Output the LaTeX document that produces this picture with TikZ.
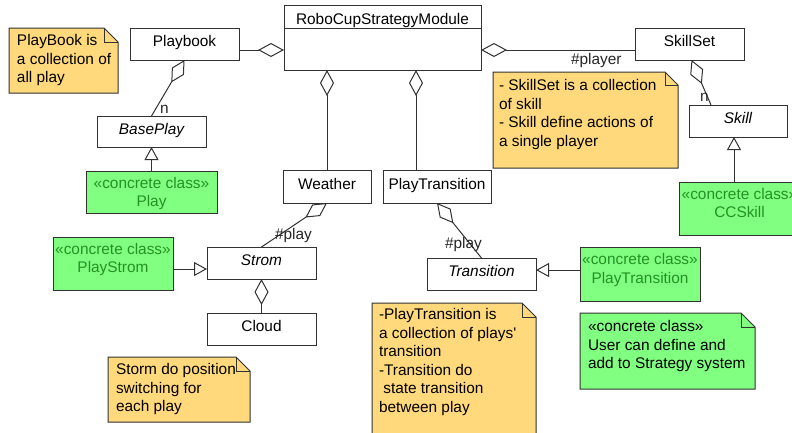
\documentclass[tikz,border=0pt]{standalone}
\usepackage{fontspec}
\setmainfont{Liberation Sans}
\usetikzlibrary{arrows.meta,calc,backgrounds}
\definecolor{notey}{RGB}{255,217,123}
\definecolor{ccfill}{RGB}{128,255,128}
\definecolor{cctext}{RGB}{36,145,36}
\definecolor{edge}{RGB}{50,50,50}
\newcommand\bx[4]{\parbox[c][#2][t]{#1}{\vspace*{#3}#4}}
\newcommand\notefold[3]{%
  \filldraw[fill=#2, draw=edge, line width=1pt] (#1.south west) -- (#1.north west) -- ([xshift=-#3]#1.north east) -- ([yshift=-#3]#1.north east) -- (#1.south east) -- cycle;
  \draw[draw=edge, line width=1pt, line join=miter] ([xshift=-#3]#1.north east) -- ([xshift=-#3,yshift=-#3]#1.north east) -- ([yshift=-#3]#1.north east);}
\tikzset{
  aggtip/.tip={Diamond[open,length=26pt,width=14pt]},
  gentip/.tip={Triangle[open,length=13pt,width=14pt]},
  base/.style={font=\fontsize{15.4}{18.5}\selectfont, outer sep=0pt},
  cls/.style={base, draw=edge, line width=1pt, fill=white, anchor=north west, inner sep=0pt, text height=10pt, text depth=5pt},
  cc/.style={base, draw=edge, line width=1pt, fill=ccfill, text=cctext, anchor=north west, inner sep=0pt},
  note/.style={base, anchor=north west, inner sep=0pt},
  conn/.style={draw=edge, line width=1pt},
  agg/.style={conn, aggtip-},
  gen/.style={conn, -gentip},
  lbl/.style={base, anchor=base west, inner sep=0pt, text=black!85},
}
\begin{document}
\begin{tikzpicture}[x=1pt,y=-1pt]
\begin{pgfonlayer}{background}
\fill[white] (0,0) rectangle (792,432);
\end{pgfonlayer}
\useasboundingbox (0,0) rectangle (792,432);

% classes
\node[cls, minimum width=197pt, minimum height=65pt, text height=0pt, text depth=0pt] (M) at (284,5) {};
\draw[conn] ([yshift=-23pt]M.north west) -- ([yshift=-23pt]M.north east);
\node[base, anchor=base, inner sep=0pt] (Mt) at ([yshift=-19pt]M.north) {RoboCupStrategyModule};

\node[cls, minimum width=109pt, minimum height=32pt] (PB) at (130,28) {Playbook};
\node[cls, minimum width=109pt, minimum height=32pt] (SS) at (635,28) {SkillSet};
\node[cls, minimum width=109pt, minimum height=31pt] (BP) at (97,116) {\itshape BasePlay};
\node[cls, minimum width=98pt, minimum height=32pt] (SK) at (689,105) {\itshape Skill};
\node[cls, minimum width=88pt, minimum height=33pt] (W) at (283,170) {Weather};
\node[cls, minimum width=108pt, minimum height=33pt] (PT) at (383,170) {PlayTransition};
\node[cls, minimum width=109pt, minimum height=32pt] (ST) at (207,247) {\itshape Strom};
\node[cls, minimum width=109pt, minimum height=32pt] (CL) at (207,313) {Cloud};
\node[cls, minimum width=109pt, minimum height=32pt] (TR) at (427,258) {\itshape Transition};

% concrete classes
\node[cc] (PL) at (86,171) {\bx{131pt}{42pt}{4.5pt}{\centering\strut «concrete class»\\Play}};
\node[cc] (PS) at (53,237) {\bx{120pt}{53pt}{4.5pt}{\centering\strut «concrete class»\\PlayStrom}};
\node[cc] (PTc) at (580,247) {\bx{120pt}{54pt}{5pt}{\centering\strut «concrete class»\\PlayTransition}};
\node[cc] (CC) at (679,182) {\bx{121pt}{53pt}{4.5pt}{\centering\strut «concrete class»\\CCSkill}};

% notes
\node[note] (N1) at (9,28) {\bx{109pt}{65pt}{5pt}{\raggedright\leftskip=8pt\strut PlayBook is\\a collection of\\all play}};
\node[note] (N2) at (493,72) {\bx{185pt}{96pt}{6pt}{\raggedright\leftskip=6pt\strut - SkillSet is a collection\\of skill\\- Skill define actions of\\a single player}};
\node[note] (N3) at (372,303) {\bx{164pt}{142pt}{4pt}{\raggedright\leftskip=7pt\strut -PlayTransition is\\a collection of plays\textquotesingle\\transition\\-Transition do\\\hspace*{4.3pt}state transition\\between play}};
\node[note] (N4) at (580,313) {\bx{175pt}{76pt}{5.7pt}{\raggedright\leftskip=8pt\strut «concrete class»\\User can define and\\add to Strategy system}};
\node[note] (N5) at (108,357) {\bx{142pt}{65pt}{5pt}{\raggedright\leftskip=8pt\strut Storm do position\\switching for\\each play}};
\begin{pgfonlayer}{background}
\notefold{N1}{notey}{14pt}
\notefold{N2}{notey}{13pt}
\notefold{N3}{notey}{14pt}
\notefold{N4}{ccfill}{14pt}
\notefold{N5}{notey}{14pt}
\end{pgfonlayer}

% aggregations
\draw[agg] (M.west |- 0,50) -- (PB.east |- 0,50);
\draw[agg] (M.east |- 0,50) -- (SS.west |- 0,50);
\draw[agg] (M.south -| W.north) -- (W.north);
\draw[agg] (M.south -| 416,0) -- (PT.north -| 416,0);
\draw[agg] (PB.south) -- (BP.north);
\draw[agg] (W.south) -- (ST.north);
\draw[agg] (PT.south) -- (TR.north);
\draw[agg] ([xshift=2pt]SS.south) -- ([xshift=-27pt]SK.north);
\draw[agg] (ST.south) -- (CL.north);

% generalizations
\draw[gen] (PL.north) -- (BP.south);
\draw[gen] (PS.east |- 0,269) -- (ST.west |- 0,269);
\draw[gen] (PTc.west |- 0,270) -- (TR.east |- 0,270);
\draw[gen] (CC.north -| 734,0) -- (SK.south -| 734,0);

% labels
\node[lbl] (l1) at (160,113) {n};
\node[lbl] (l2) at (700,101.5) {n};
\node[lbl] (l3) at (571,64) {\#player};
\node[lbl] (l4) at (275,239) {\#play};
\node[lbl] (l5) at (445,248) {\#play};
\end{tikzpicture}
\end{document}
